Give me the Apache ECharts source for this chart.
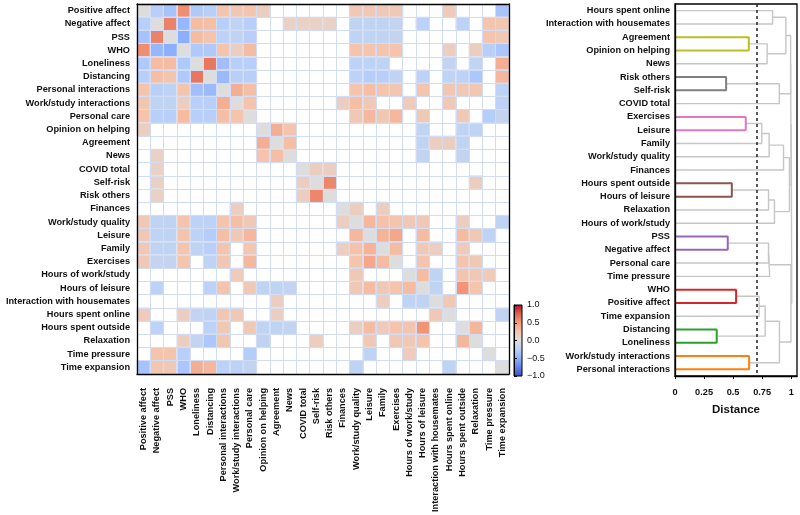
<!DOCTYPE html>
<html><head><meta charset="utf-8">
<script src="https://cdn.jsdelivr.net/npm/echarts@6/dist/echarts.min.js"></script>
<style>html,body{margin:0;padding:0;background:#fff}#c{width:800px;height:515px}</style>
</head><body><div id="c"></div>
<script>
// ---- data ----
const variables = ['Positive affect','Negative affect','PSS','WHO','Loneliness','Distancing','Personal interactions','Work/study interactions','Personal care','Opinion on helping','Agreement','News','COVID total','Self-risk','Risk others','Finances','Work/study quality','Leisure','Family','Exercises','Hours of work/study','Hours of leisure','Interaction with housemates','Hours spent online','Hours spent outside','Relaxation','Time pressure','Time expansion'];

// significant correlations (upper triangle): [rowIndex, colIndex, r]
const corrPairs = [
 [0,1,-0.25],[0,2,-0.35],[0,3,0.55],[0,4,-0.3],[0,5,-0.25],[0,6,0.25],[0,7,0.22],[0,8,0.25],[0,9,0.15],[0,16,0.2],[0,17,0.2],[0,18,0.2],[0,19,0.2],[0,23,0.18],[0,27,-0.35],
 [1,2,0.6],[1,3,-0.45],[1,4,0.3],[1,5,0.28],[1,6,-0.25],[1,7,-0.2],[1,8,-0.25],[1,11,0.12],[1,12,0.12],[1,13,0.12],[1,14,0.12],[1,16,-0.2],[1,17,-0.2],[1,18,-0.2],[1,19,-0.17],[1,21,-0.22],[1,24,-0.22],[1,26,0.25],[1,27,0.22],
 [2,3,-0.5],[2,4,0.3],[2,5,0.25],[2,6,-0.22],[2,7,-0.2],[2,8,-0.25],[2,16,-0.2],[2,17,-0.2],[2,18,-0.2],[2,19,-0.17],[2,26,0.25],[2,27,0.2],
 [3,4,-0.3],[3,5,-0.3],[3,6,0.25],[3,7,0.15],[3,8,0.3],[3,16,0.25],[3,17,0.25],[3,18,0.25],[3,19,0.25],[3,23,0.15],[3,25,0.15],[3,26,-0.25],[3,27,-0.33],
 [4,5,0.65],[4,6,-0.38],[4,7,-0.25],[4,8,-0.25],[4,16,-0.22],[4,17,-0.22],[4,18,-0.2],[4,23,-0.17],[4,25,-0.18],[4,27,0.38],
 [5,6,-0.42],[5,7,-0.25],[5,8,-0.25],[5,16,-0.22],[5,17,-0.27],[5,18,-0.25],[5,19,-0.2],[5,21,-0.22],[5,23,-0.2],[5,24,-0.22],[5,25,-0.32],[5,27,0.32],
 [6,7,0.38],[6,8,0.28],[6,16,0.25],[6,17,0.28],[6,18,0.25],[6,19,0.22],[6,21,0.25],[6,23,0.22],[6,24,0.2],[6,25,0.22],[6,27,-0.22],
 [7,8,0.25],[7,15,0.15],[7,16,0.28],[7,17,0.2],[7,20,0.18],[7,23,0.2],[7,27,-0.22],
 [8,16,0.2],[8,17,0.32],[8,18,0.22],[8,19,0.32],[8,21,0.2],[8,24,0.2],[8,26,-0.27],[8,27,-0.17],
 [9,10,0.38],[9,11,0.25],[9,21,-0.2],[9,24,-0.2],[9,25,-0.2],
 [10,11,0.28],[10,21,-0.2],[10,22,0.15],[10,23,0.15],[10,24,-0.2],
 [11,21,-0.18],[11,24,-0.18],
 [12,13,0.15],[12,14,0.15],
 [13,14,0.58],[13,25,0.15],
 [15,16,0.15],[15,18,0.15],
 [16,17,0.32],[16,18,0.27],[16,19,0.25],[16,20,0.2],[16,21,0.2],[16,24,0.15],[16,27,-0.2],
 [17,18,0.35],[17,19,0.42],[17,21,0.3],[17,24,0.3],[17,25,0.2],[17,26,-0.2],
 [18,19,0.3],[18,21,0.2],[18,22,0.15],[18,24,0.18],
 [19,21,0.25],[19,24,0.25],[19,25,0.2],
 [20,21,0.3],[20,22,-0.2],[20,24,0.25],[20,25,0.2],[20,26,0.18],
 [21,22,-0.2],[21,24,0.52],[21,25,0.25],
 [22,23,0.2],
 [23,27,-0.2],
 [24,25,0.33]
];

// dendrogram leaves, top to bottom
const dendroLeaves = ['Hours spent online','Interaction with housemates','Agreement','Opinion on helping','News','Risk others','Self-risk','COVID total','Exercises','Leisure','Family','Work/study quality','Finances','Hours spent outside','Hours of leisure','Relaxation','Hours of work/study','PSS','Negative affect','Personal care','Time pressure','WHO','Positive affect','Time expansion','Distancing','Loneliness','Work/study interactions','Personal interactions'];

// linkage: [childA, childB, distance]; ids 0..27 = leaves, 28.. = merged clusters in order
const merges = [
 [24,25,0.359],[5,6,0.44],[17,18,0.454],[13,14,0.489],[21,22,0.526],[8,9,0.609],[2,3,0.635],[26,27,0.638],
 [32,23,0.724],[33,10,0.747],[36,28,0.776],[34,4,0.793],[30,19,0.805],[31,15,0.805],[37,11,0.81],[40,20,0.815],
 [0,1,0.84],[41,16,0.856],[29,7,0.898],[38,35,0.899],[42,12,0.934],[44,39,0.954],[48,45,0.985],[49,46,0.995],
 [43,47,0.998],[51,50,1.0],[53,52,1.005]
];
const distanceThreshold = 0.7;
const distanceTicks = [0, 0.25, 0.5, 0.75, 1];
const colorbarTicks = [-1, -0.5, 0, 0.5, 1];

// ---- styling ----
const coolwarm = ['#3b4cc0','#6282ea','#8db0fe','#b8d0f9','#dddddd','#f5c4ac','#f49a7b','#de604d','#b40426'];
const clusterPalette = ['#ff7f0e','#2ca02c','#d62728','#9467bd','#8c564b','#e377c2','#7f7f7f','#bcbd22'];
const FONT = 'Liberation Sans, Arial, sans-serif';
const labelStyle = {fontSize: 9.2, fontWeight: 'bold', color: '#111', fontFamily: FONT};
const frameAxis = {show: true, onZero: false, lineStyle: {color: '#000', width: 1.3}};

// ---- heatmap data ----
const heatData = [];
for (let i = 0; i < variables.length; i++) heatData.push([i, i, 0]);
corrPairs.forEach(([r, c, v]) => { heatData.push([c, r, v]); heatData.push([r, c, v]); });

// ---- dendrogram geometry from linkage ----
const nLeaf = dendroLeaves.length;
const nodeY = [], nodeH = [];
for (let i = 0; i < nLeaf; i++) { nodeY[i] = i; nodeH[i] = 0; }
const links = [];
merges.forEach(([a, b, h], k) => {
  const id = nLeaf + k;
  nodeY[id] = (nodeY[a] + nodeY[b]) / 2;
  nodeH[id] = h;
  links.push({pts: [[nodeH[a], nodeY[a]], [h, nodeY[a]], [h, nodeY[b]], [nodeH[b], nodeY[b]]], h, id, a, b});
});
const clusterColor = {};
const lowTop = links.filter(l => l.h < distanceThreshold && !links.some(p => p.h < distanceThreshold && (p.a === l.id || p.b === l.id)));
lowTop.sort((p, q) => nodeY[q.id] - nodeY[p.id]);
lowTop.forEach((l, i) => clusterColor[l.id] = clusterPalette[i % clusterPalette.length]);
function colorOf(l) {
  if (l.h >= distanceThreshold) return null;
  let cur = l.id;
  while (clusterColor[cur] === undefined) {
    const parent = links.find(p => p.a === cur || p.b === cur);
    cur = parent.id;
  }
  return clusterColor[cur];
}

const dendroSeries = links.map((l, i) => {
  const c = colorOf(l);
  const s = {
    type: 'line', xAxisIndex: 1, yAxisIndex: 2, data: l.pts, symbol: 'none', silent: true,
    lineStyle: {color: c || '#c6c6c6', width: c ? 2 : 1.4}, z: c ? 4 : 3
  };
  if (i === 0) {
    s.markLine = {silent: true, symbol: 'none', label: {show: false},
      lineStyle: {type: [3, 3], color: '#222', width: 1.5}, data: [{xAxis: distanceThreshold}]};
  }
  return s;
});

const fmtBar = v => (v < 0 ? '\u2212' : '') + Math.abs(v).toFixed(1);

const chart = echarts.init(document.getElementById('c'), null, {renderer: 'canvas'});
chart.setOption({
  animation: false,
  backgroundColor: '#fff',
  grid: [
    {left: 137, top: 4, width: 372, height: 372, show: false},
    {left: 675, top: 4, width: 122, height: 372, show: true, borderColor: '#000', borderWidth: 1.3},
    {left: 514, top: 305, width: 8, height: 71, show: true, borderColor: '#000', borderWidth: 1,
     backgroundColor: {type: 'linear', x: 0, y: 0, x2: 0, y2: 1,
       colorStops: coolwarm.slice().reverse().map((c, i) => ({offset: i / (coolwarm.length - 1), color: c}))}}
  ],
  xAxis: [
    {gridIndex: 0, type: 'category', data: variables, position: 'bottom', z: 10,
     splitLine: {show: true, interval: 0, lineStyle: {color: '#d2ddf5', width: 1}},
     axisLine: frameAxis,
     axisTick: {alignWithLabel: true, interval: 0, length: 5, lineStyle: {color: '#000'}},
     axisLabel: Object.assign({rotate: 90, interval: 0, margin: 14}, labelStyle)},
    {gridIndex: 1, type: 'value', min: 0, max: 1.05, interval: 0.25, z: 10,
     splitLine: {show: false},
     axisLine: frameAxis,
     axisTick: {length: 3, lineStyle: {color: '#000'}, customValues: distanceTicks},
     axisLabel: {customValues: distanceTicks, formatter: v => distanceTicks.includes(v) ? String(v) : '',
       fontSize: 9.2, fontWeight: 'bold', color: '#111', fontFamily: FONT, margin: 12},
     name: 'Distance', nameLocation: 'middle', nameGap: 28,
     nameTextStyle: {fontSize: 11.5, fontWeight: 'bold', color: '#111', fontFamily: FONT}},
    {gridIndex: 2, type: 'value', show: false, min: 0, max: 1},
    {gridIndex: 0, type: 'category', data: variables, position: 'top', z: 10,
     axisLine: frameAxis, axisTick: {show: false}, axisLabel: {show: false}, splitLine: {show: false}}
  ],
  yAxis: [
    {gridIndex: 0, type: 'category', data: variables, inverse: true, z: 10,
     splitLine: {show: true, interval: 0, lineStyle: {color: '#d2ddf5', width: 1}},
     axisLine: frameAxis,
     axisTick: {alignWithLabel: true, interval: 0, length: 5, lineStyle: {color: '#000'}},
     axisLabel: Object.assign({interval: 0, margin: 7}, labelStyle)},
    {gridIndex: 1, type: 'category', data: dendroLeaves, inverse: true, z: 10,
     axisLine: frameAxis,
     axisTick: {show: false},
     axisLabel: Object.assign({interval: 0, margin: 5}, labelStyle)},
    {gridIndex: 1, type: 'value', min: -0.5, max: nLeaf - 0.5, inverse: true, show: false, splitLine: {show: false}},
    {gridIndex: 2, type: 'value', min: -1, max: 1, interval: 0.5, position: 'right',
     splitLine: {show: false},
     axisLine: {show: true, lineStyle: {color: '#000', width: 1}},
     axisTick: {show: true, length: 3, lineStyle: {color: '#000'}},
     axisLabel: {formatter: fmtBar, fontSize: 9, color: '#111', fontFamily: FONT, margin: 5}},
    {gridIndex: 0, type: 'category', data: variables, inverse: true, position: 'right', z: 10,
     axisLine: frameAxis, axisTick: {show: false}, axisLabel: {show: false}, splitLine: {show: false}}
  ],
  visualMap: {type: 'continuous', min: -1, max: 1, show: false, seriesIndex: 0, inRange: {color: coolwarm}},
  series: [
    {type: 'heatmap', xAxisIndex: 0, yAxisIndex: 0, data: heatData, silent: true,
     itemStyle: {borderColor: 'rgba(226,233,250,0.9)', borderWidth: 0.8},
     emphasis: {disabled: true}}
  ].concat(dendroSeries)
});
</script></body></html>
